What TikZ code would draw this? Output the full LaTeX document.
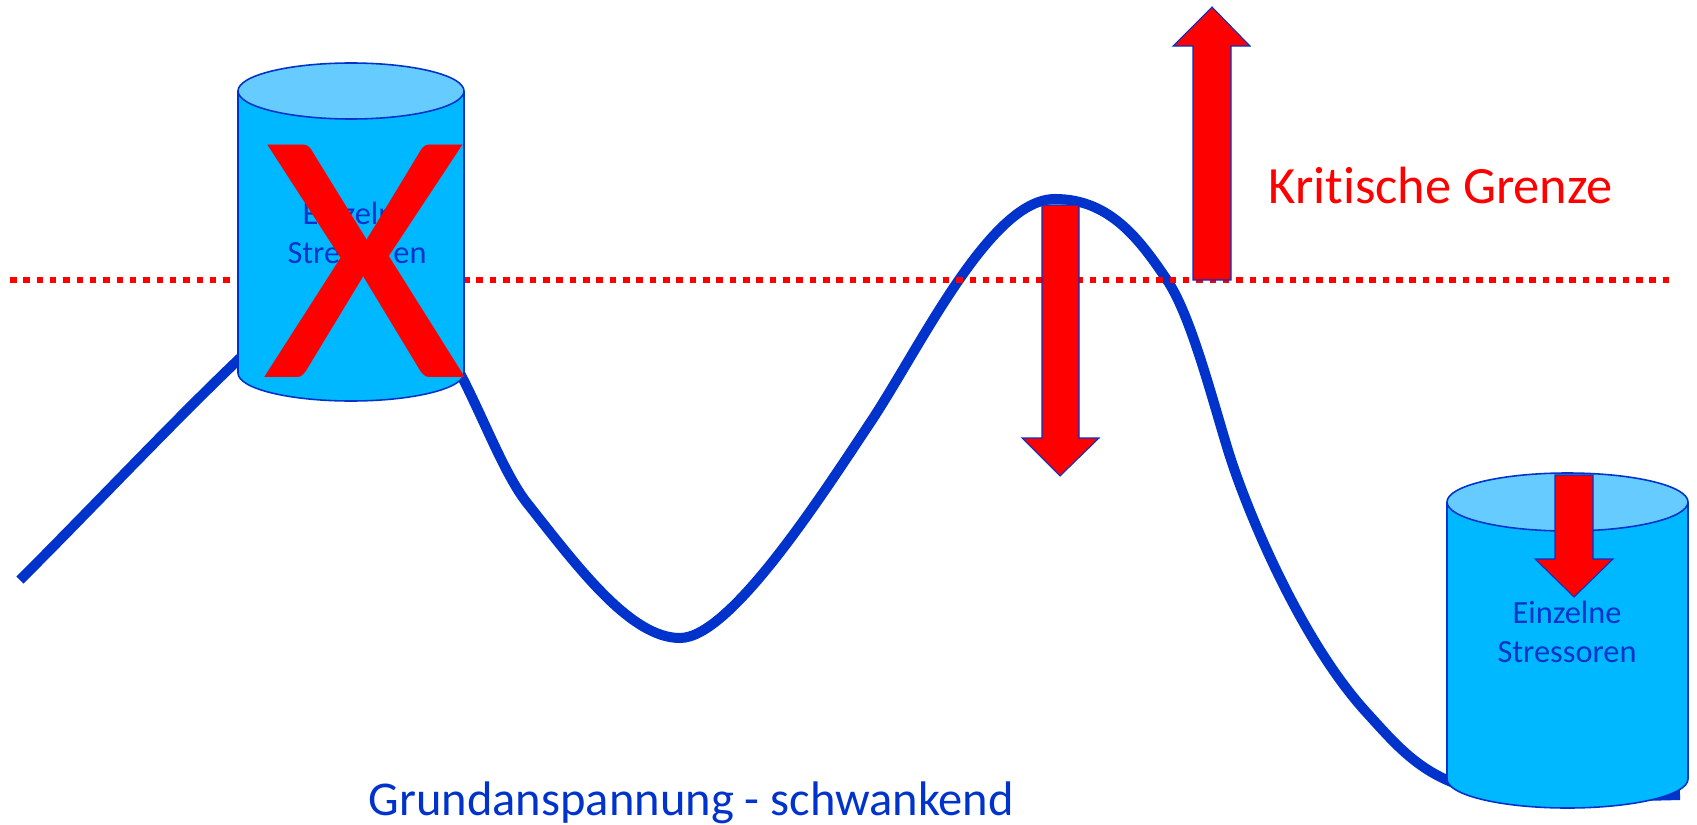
\documentclass[tikz,border=0pt]{standalone}
\usepackage{fontspec}
\setmainfont{Carlito}[Ligatures=NoCommon]
\usetikzlibrary{positioning}
\definecolor{lineblue}{HTML}{0033CC}
\definecolor{cylblue}{HTML}{00B8FF}
\definecolor{cyltop}{HTML}{66CCFF}
\definecolor{alarmred}{HTML}{FF0000}

\begin{document}
\begin{tikzpicture}[x=0.01cm, y=-0.01cm,
  curve/.style={draw=lineblue, line width=2.85pt, line join=round},
  limit/.style={draw=alarmred, line width=1.85pt, dash pattern=on 1.85pt off 1.94pt},
  cyl/.style={draw=lineblue, line width=0.45pt},
  blk/.style={fill=alarmred, draw=lineblue, line width=0.3pt, line join=miter},
  lbl/.style={text=lineblue, align=center, inner sep=0pt, font=\fontsize{9.2}{11}\selectfont}
]
  \useasboundingbox (0,0) rectangle (1697,824);

  % fluctuating base tension
  \draw[curve] (20,580) .. controls (95,505) and (170,425) .. (238,360)
    .. controls (300,300) and (420,290) .. (462,377)
    .. controls (485,422) and (505,475) .. (527,503)
    .. controls (577,566) and (630,638) .. (680,638)
    .. controls (730,638) and (820,498) .. (870,423)
    .. controls (920,348) and (990,199) .. (1055,199)
    .. controls (1110,199) and (1140,240) .. (1167,280)
    .. controls (1190,314) and (1210,391) .. (1227,447)
    .. controls (1245,507) and (1300,640) .. (1367,713)
    .. controls (1410,760) and (1440,800) .. (1560,798) -- (1680,795);

  % critical limit
  \draw[limit] (10,280) -- (1672,280);

  % left barrel, crossed out
  \fill[cylblue] (238,91) rectangle (464,373);
  \fill[cylblue] (351,373) ellipse [x radius=113, y radius=28];
  \draw[cyl] (238,91) -- (238,373) arc[start angle=180, end angle=0, x radius=113, y radius=28] -- (464,91);
  \filldraw[cyl, fill=cyltop] (351,91) ellipse [x radius=113, y radius=28];
  \node[lbl] (stress1) at (357,233) {Einzelne\\Stressoren};
  \node[text=alarmred, inner sep=0pt, xscale=1.09, font=\fontsize{103}{103}\selectfont] (cross) at (365,261) {X};

  % right barrel
  \fill[cylblue] (1447,502) rectangle (1688,779);
  \fill[cylblue] (1567.5,779) ellipse [x radius=120.5, y radius=29];
  \draw[cyl] (1447,502) -- (1447,779) arc[start angle=180, end angle=0, x radius=120.5, y radius=29] -- (1688,502);
  \filldraw[cyl, fill=cyltop] (1567.5,502) ellipse [x radius=120.5, y radius=29];
  \node[lbl] (stress2) at (1567,632) {Einzelne\\Stressoren};

  % block arrows
  \draw[blk] (1042,205) -- (1079,205) -- (1079,438) -- (1099,438) -- (1060,476) -- (1022,438) -- (1042,438) -- cycle;
  \draw[blk] (1193,280) -- (1193,46) -- (1173,46) -- (1212,7) -- (1250,46) -- (1231,46) -- (1231,280) -- cycle;
  \draw[blk] (1555,475) -- (1593,475) -- (1593,559) -- (1613,559) -- (1574,597) -- (1535,559) -- (1555,559) -- cycle;

  \node[text=alarmred, anchor=base west, inner sep=0pt, font=\fontsize{14.9}{18}\selectfont] (grenze) at (1268,203) {Kritische Grenze};
  \node[text=lineblue, anchor=base west, inner sep=0pt, font=\fontsize{13.8}{16}\selectfont] (grund) at (368,815) {Grundanspannung - schwankend};
\end{tikzpicture}
\end{document}
